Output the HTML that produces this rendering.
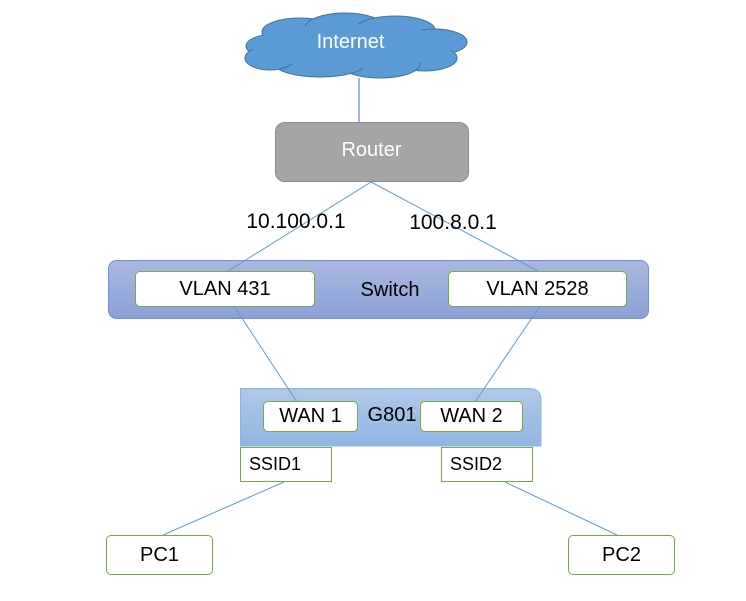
<!DOCTYPE html>
<html><head><meta charset="utf-8"><style>
body{margin:0;width:746px;height:601px;background:#fff;overflow:hidden;font-family:"Liberation Sans",sans-serif}
.b{position:absolute;box-sizing:border-box;display:flex;align-items:center;justify-content:center;color:#000;font-size:19px}
.g{border:1.5px solid #70ad47;background:#fff;border-radius:5px}
</style></head><body>
<svg width="746" height="601" style="position:absolute;left:0;top:0">
<defs><linearGradient id="sw" x1="0" y1="0" x2="0" y2="1"><stop offset="0" stop-color="#aab8e0"/><stop offset="1" stop-color="#8ba1d6"/></linearGradient>
<linearGradient id="gw" x1="0" y1="0" x2="0" y2="1"><stop offset="0" stop-color="#b0c9e8"/><stop offset="1" stop-color="#90b5e2"/></linearGradient></defs>
<g fill="#5b9bd5" stroke="#41719c" stroke-width="1">
<ellipse cx="282" cy="46" rx="36" ry="13"/><ellipse cx="300" cy="32" rx="38" ry="14"/><ellipse cx="345" cy="28" rx="40" ry="15"/>
<ellipse cx="395" cy="30" rx="40" ry="14"/><ellipse cx="435" cy="42" rx="32" ry="13"/><ellipse cx="425" cy="58" rx="32" ry="13"/>
<ellipse cx="380" cy="64" rx="40" ry="14"/><ellipse cx="320" cy="64" rx="45" ry="13"/><ellipse cx="270" cy="58" rx="25" ry="12"/>
</g>
<ellipse cx="352" cy="46" rx="100" ry="22" fill="#5b9bd5"/>
<line x1="359" y1="78" x2="359" y2="122" stroke="#4472c4" stroke-width="1"/>
<rect x="275.5" y="122.5" width="193" height="59" rx="9" fill="#a5a5a5" stroke="#8c8c8c"/>
<rect x="108.5" y="260.5" width="540" height="58" rx="8" fill="url(#sw)" stroke="#7090d0"/>
<path d="M240.5 388.5 H529 Q541 388.5 541 400 V446 H240.5 Z" fill="url(#gw)" stroke="#8fb0e0"/>
<g stroke="#5b9bd5" stroke-width="1">
<line x1="371" y1="182" x2="228" y2="271"/><line x1="371" y1="182" x2="538" y2="271"/>
<line x1="234" y1="306" x2="297" y2="402"/><line x1="540" y1="306" x2="475" y2="402"/>
<line x1="284" y1="482" x2="163" y2="535"/><line x1="505" y1="482" x2="617" y2="535"/>
</g>
</svg>
<div class="b" style="left:248px;top:28px;width:205px;height:28px;color:#fff;font-size:20px">Internet</div>
<div class="b" style="left:275px;top:136px;width:193px;height:28px;color:#fff;font-size:20px">Router</div>
<div class="b" style="left:230px;top:208px;width:132px;height:28px;font-size:21px">10.100.0.1</div>
<div class="b" style="left:396px;top:209px;width:114px;height:28px;font-size:21px">100.8.0.1</div>
<div class="b g" style="left:135px;top:271px;width:180px;height:36px;font-size:20px">VLAN 431</div>
<div class="b g" style="left:448px;top:271px;width:179px;height:36px;font-size:20px">VLAN 2528</div>
<div class="b" style="left:345px;top:276px;width:90px;height:28px;font-size:20px">Switch</div>
<div class="b g" style="left:263px;top:401px;width:95px;height:31px;font-size:20px">WAN 1</div>
<div class="b g" style="left:420px;top:401px;width:103px;height:31px;font-size:20px">WAN 2</div>
<div class="b" style="left:360px;top:401px;width:64px;height:28px;font-size:20px">G801</div>
<div class="b" style="left:240px;top:447px;width:92px;height:35px;border:1.5px solid #70ad47;justify-content:flex-start;padding-left:8px;font-size:18px">SSID1</div>
<div class="b" style="left:441px;top:447px;width:92px;height:35px;border:1.5px solid #70ad47;justify-content:flex-start;padding-left:8px;font-size:18px">SSID2</div>
<div class="b g" style="left:106px;top:535px;width:107px;height:40px;font-size:20px">PC1</div>
<div class="b g" style="left:568px;top:535px;width:107px;height:40px;font-size:20px">PC2</div>
</body></html>
